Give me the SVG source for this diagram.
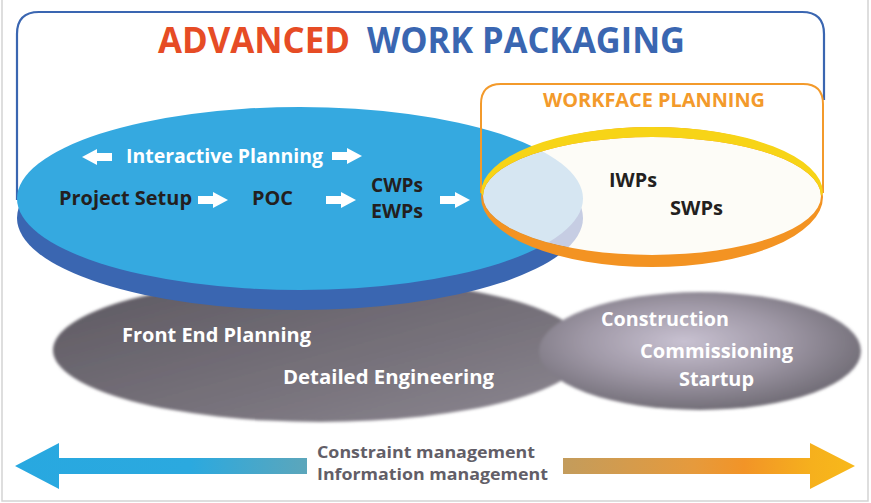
<svg xmlns="http://www.w3.org/2000/svg" width="871" height="503" viewBox="0 0 871 503">
<defs>
<style>
.t{font-family:"Open Sans","Noto Sans","DejaVu Sans",sans-serif;font-weight:700;}
.wt{fill:#ffffff;}
.bk{fill:#231f20;}
.gr{fill:#625e67;}
</style>
<linearGradient id="gL" x1="0" y1="0" x2="1" y2="1">
<stop offset="0" stop-color="#5c5860"/>
<stop offset="0.6" stop-color="#77727b"/>
<stop offset="1" stop-color="#8d8892"/>
</linearGradient>
<radialGradient id="gR" cx="0.45" cy="0.42" r="0.62">
<stop offset="0" stop-color="#c8c1d1"/>
<stop offset="0.5" stop-color="#9f98a6"/>
<stop offset="1" stop-color="#6c6871"/>
</radialGradient>
<linearGradient id="aL" gradientUnits="userSpaceOnUse" x1="15" y1="0" x2="307" y2="0">
<stop offset="0" stop-color="#28a8e0"/>
<stop offset="0.6" stop-color="#2ba9df"/>
<stop offset="1" stop-color="#5ca6bb"/>
</linearGradient>
<linearGradient id="aR" gradientUnits="userSpaceOnUse" x1="563" y1="0" x2="855" y2="0">
<stop offset="0" stop-color="#c39c5c"/>
<stop offset="0.45" stop-color="#e69a3c"/>
<stop offset="0.62" stop-color="#f29427"/>
<stop offset="0.85" stop-color="#f6b01d"/>
<stop offset="1" stop-color="#f8b91a"/>
</linearGradient>
<filter id="soft" x="-5%" y="-10%" width="110%" height="120%">
<feGaussianBlur stdDeviation="1.6"/>
</filter>
<clipPath id="faceClip">
<ellipse cx="652" cy="196" rx="169" ry="59"/>
</clipPath>
<path id="wa" d="M0,-4 H15 V-8 L30,0 L15,8 V4 H0 Z" fill="#ffffff"/>
</defs>

<rect x="0" y="0" width="871" height="503" fill="#ffffff"/>
<path d="M2,0 V501 H868 V0" fill="none" stroke="#d4d4d4" stroke-width="1.5"/>

<g id="phases" filter="url(#soft)">
<ellipse cx="320" cy="350" rx="267" ry="72" fill="url(#gL)"/>
<ellipse cx="700" cy="351" rx="161" ry="59" fill="url(#gR)"/>
</g>

<g id="awp-frame">
<path d="M17,200 V34 Q17,12 39,12 H802 Q824,12 824,34 V100" fill="none" stroke="#3a66b1" stroke-width="2.2"/>
<text class="t" x="158" y="53" font-size="35" fill="#e64c25" textLength="192" lengthAdjust="spacingAndGlyphs">ADVANCED</text>
<text class="t" x="367" y="53" font-size="35" fill="#3a66b1" textLength="318" lengthAdjust="spacingAndGlyphs">WORK PACKAGING</text>
</g>

<g id="planning-disc">
<ellipse cx="300" cy="218" rx="283" ry="92" fill="#3a66b1"/>
<ellipse cx="300" cy="198.5" rx="283" ry="91.5" fill="#35a9e0"/>
</g>

<g id="workface">
<path d="M481,193 V104 Q481,84 501,84 H803 Q823,84 823,104 V193" fill="none" stroke="#f39a2b" stroke-width="2"/>
<text class="t" x="543" y="107" font-size="20" fill="#f39a2b" textLength="222" lengthAdjust="spacingAndGlyphs">WORKFACE PLANNING</text>
<ellipse cx="652" cy="196" rx="169" ry="59" fill="#fdfcf7"/>
<g clip-path="url(#faceClip)">
<ellipse cx="300" cy="218" rx="283" ry="92" fill="#c6cde3"/>
<ellipse cx="300" cy="198.5" rx="283" ry="91.5" fill="#d6e6f2"/>
</g>
<path fill-rule="evenodd" fill="#f39322" d="M481,197 A171,70 0 1 0 823,197 A171,70 0 1 0 481,197 Z M483,196 A169,59 0 1 0 821,196 A169,59 0 1 0 483,196 Z"/>
<path fill="#f7d417" d="M481,193 A171,66 0 0 1 823,193 L821,196 A169,59 0 0 0 483,196 Z"/>
</g>

<g id="connectors">
<use href="#wa" transform="translate(112,157) scale(-1,1)"/>
<use href="#wa" transform="translate(332,156)"/>
<use href="#wa" transform="translate(198,200)"/>
<use href="#wa" transform="translate(326,200)"/>
<use href="#wa" transform="translate(440,200)"/>
</g>

<g id="labels-planning">
<text class="t wt" x="126" y="163" font-size="20" textLength="197" lengthAdjust="spacingAndGlyphs">Interactive Planning</text>
<text class="t bk" x="59" y="205" font-size="20" textLength="133" lengthAdjust="spacingAndGlyphs">Project Setup</text>
<text class="t bk" x="252" y="205" font-size="20" textLength="41" lengthAdjust="spacingAndGlyphs">POC</text>
<text class="t bk" x="371" y="192" font-size="20" textLength="52" lengthAdjust="spacingAndGlyphs">CWPs</text>
<text class="t bk" x="371" y="218" font-size="20" textLength="52" lengthAdjust="spacingAndGlyphs">EWPs</text>
<text class="t bk" x="609" y="187" font-size="20" textLength="48" lengthAdjust="spacingAndGlyphs">IWPs</text>
<text class="t bk" x="670" y="215" font-size="20" textLength="53" lengthAdjust="spacingAndGlyphs">SWPs</text>
</g>

<g id="labels-phases">
<text class="t wt" x="122" y="342" font-size="20" textLength="189" lengthAdjust="spacingAndGlyphs">Front End Planning</text>
<text class="t wt" x="283" y="384" font-size="20" textLength="211" lengthAdjust="spacingAndGlyphs">Detailed Engineering</text>
<text class="t wt" x="601" y="326" font-size="20" textLength="128" lengthAdjust="spacingAndGlyphs">Construction</text>
<text class="t wt" x="640" y="358" font-size="20" textLength="153" lengthAdjust="spacingAndGlyphs">Commissioning</text>
<text class="t wt" x="679" y="386" font-size="20" textLength="75" lengthAdjust="spacingAndGlyphs">Startup</text>
</g>

<g id="management">
<path d="M15,466 L59,443 V458 H307 V474 H59 V489 Z" fill="url(#aL)"/>
<path d="M855,466 L810,443 V458 H563 V474 H810 V489 Z" fill="url(#aR)"/>
<text class="t gr" x="317" y="458" font-size="16" textLength="218" lengthAdjust="spacingAndGlyphs">Constraint management</text>
<text class="t gr" x="317" y="480" font-size="16" textLength="231" lengthAdjust="spacingAndGlyphs">Information management</text>
</g>
</svg>
